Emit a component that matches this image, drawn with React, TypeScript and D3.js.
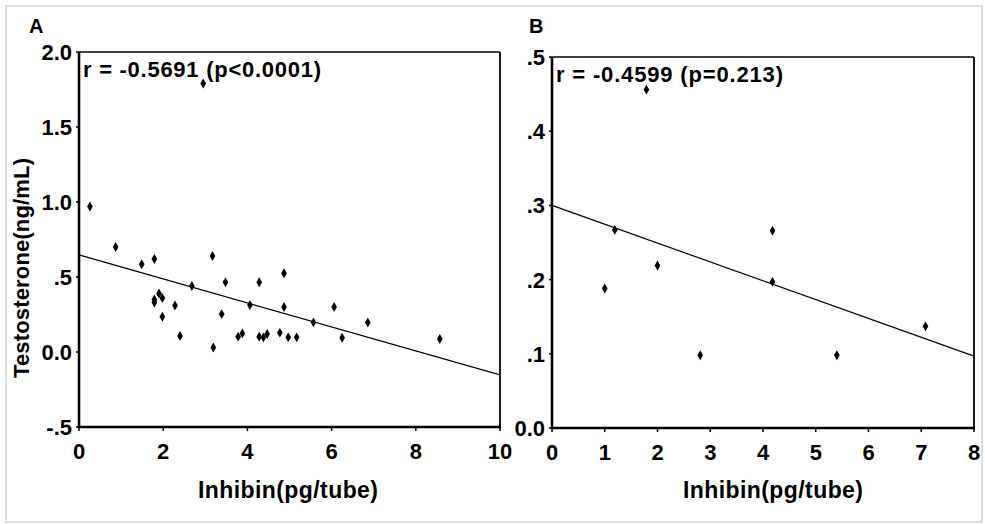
import React from "react";
import * as d3 from "d3";

// Panel A data: Inhibin (pg/tube) vs Testosterone (ng/mL)
const inhibinA = [0.26, 0.87, 1.49, 1.79, 2.95, 3.17, 2.68, 1.90, 1.98, 1.79, 1.79, 2.28, 1.98, 2.40, 3.19,
  3.48, 4.28, 4.87, 4.06, 4.87, 6.06, 3.39, 5.57, 3.78, 3.88, 4.28, 4.38, 4.47, 4.77, 4.97, 5.17, 6.25, 6.86, 8.57];
const testoA = [0.97, 0.70, 0.585, 0.62, 1.79, 0.64, 0.44, 0.39, 0.36, 0.35, 0.33, 0.31, 0.235, 0.107, 0.03,
  0.465, 0.465, 0.525, 0.313, 0.30, 0.30, 0.253, 0.198, 0.102, 0.124, 0.102, 0.098, 0.12, 0.129, 0.098, 0.098, 0.095, 0.196, 0.087];
const fitA = [0.647, -0.08]; // intercept, slope

// Panel B data
const inhibinB = [1.79, 1.19, 4.18, 2.00, 1.00, 4.18, 7.08, 2.81, 5.40];
const testoB = [0.456, 0.267, 0.266, 0.219, 0.188, 0.197, 0.137, 0.098, 0.098];
const fitB = [0.30, -0.0254];

const xTicksA = [0, 2, 4, 6, 8, 10];
const yTicksA = [-0.5, 0, 0.5, 1.0, 1.5, 2.0];
const yLabelsA = ["-.5", "0.0", ".5", "1.0", "1.5", "2.0"];
const xTicksB = [0, 1, 2, 3, 4, 5, 6, 7, 8];
const yTicksB = [0, 0.1, 0.2, 0.3, 0.4, 0.5];
const yLabelsB = ["0.0", ".1", ".2", ".3", ".4", ".5"];

const FONT = "Arimo, 'Liberation Sans', Arial, sans-serif";

type PanelProps = {
  left: number; right: number; top: number; bottom: number;
  xDomain: [number, number]; yDomain: [number, number];
  xs: number[]; ys: number[]; fit: number[];
  xTicks: number[]; yTicks: number[]; yLabels: string[];
  annotation: string; annoWidth: number; letter: string; letterX: number;
  titleX: number; titleWidth: number;
};

function Panel(p: PanelProps) {
  const x = d3.scaleLinear().domain(p.xDomain).range([p.left, p.right]);
  const y = d3.scaleLinear().domain(p.yDomain).range([p.bottom, p.top]);
  const sym = d3.symbol().type(d3.symbolDiamond).size(28)();
  const line = d3.line<number>().x((v) => x(v)).y((v) => y(p.fit[0] + p.fit[1] * v));
  return (
    <g>
      <text x={p.letterX} y={33} fontFamily={FONT} fontWeight="bold" fontSize={20}>{p.letter}</text>
      {/* frame */}
      <line x1={p.left} x2={p.right} y1={p.top} y2={p.top} stroke="#000" strokeWidth={1.3} />
      <line x1={p.right} x2={p.right} y1={p.top} y2={p.bottom} stroke="#000" strokeWidth={1.8} />
      <line x1={p.left} x2={p.left} y1={p.top} y2={p.bottom + 1} stroke="#000" strokeWidth={2.6} />
      <line x1={p.left - 1} x2={p.right + 1} y1={p.bottom} y2={p.bottom} stroke="#000" strokeWidth={2.6} />
      {p.yTicks.map((t, i) => (
        <g key={"y" + i}>
          <line x1={p.left - 3} x2={p.left} y1={y(t)} y2={y(t)} stroke="#000" strokeWidth={1.5} />
          <text x={p.left - 7} y={y(t)} dy="0.36em" textAnchor="end" fontFamily={FONT} fontWeight="bold" fontSize={22}>{p.yLabels[i]}</text>
        </g>
      ))}
      {p.xTicks.map((t, i) => (
        <g key={"x" + i}>
          <line x1={x(t)} x2={x(t)} y1={p.bottom} y2={p.bottom + 4} stroke="#000" strokeWidth={1.5} />
          <text x={x(t)} y={p.bottom + 32} textAnchor="middle" fontFamily={FONT} fontWeight="bold" fontSize={22}>{t}</text>
        </g>
      ))}
      <path d={line(p.xDomain as number[]) || ""} fill="none" stroke="#000" strokeWidth={1.2} />
      {p.xs.map((v, i) => (
        <path key={"p" + i} d={sym || ""} transform={`translate(${x(v)},${y(p.ys[i])})`} fill="#000" />
      ))}
      <text x={p.left + 4} y={p.top + 25} fontFamily={FONT} fontWeight="bold" fontSize={22}
        textLength={p.annoWidth} lengthAdjust="spacing">{p.annotation}</text>
      <text x={p.titleX} y={498} textAnchor="middle" fontFamily={FONT} fontWeight="bold" fontSize={23}
        textLength={p.titleWidth} lengthAdjust="spacing">Inhibin(pg/tube)</text>
    </g>
  );
}

export default function App() {
  return (
    <svg width={985} height={524} style={{ position: "absolute", left: 0, top: 0, background: "#fff" }}>
      <rect x={0} y={0} width={985} height={524} fill="#fff" />
      <rect x={6} y={6} width={976} height={516} fill="none" stroke="#bbb" strokeWidth={1} />
      <Panel left={79} right={500} top={52} bottom={427} xDomain={[0, 10]} yDomain={[-0.5, 2.0]}
        xs={inhibinA} ys={testoA} fit={fitA} xTicks={xTicksA} yTicks={yTicksA} yLabels={yLabelsA}
        annotation="r = -0.5691 (p<0.0001)" annoWidth={238} letter="A" letterX={29} titleX={288} titleWidth={180} />
      <Panel left={552} right={974} top={57} bottom={428} xDomain={[0, 8]} yDomain={[0, 0.5]}
        xs={inhibinB} ys={testoB} fit={fitB} xTicks={xTicksB} yTicks={yTicksB} yLabels={yLabelsB}
        annotation="r = -0.4599 (p=0.213)" annoWidth={227} letter="B" letterX={529} titleX={773} titleWidth={180} />
      <text transform="translate(29,268) rotate(-90)" textAnchor="middle" fontFamily={FONT} fontWeight="bold"
        fontSize={22} textLength={220} lengthAdjust="spacing">Testosterone(ng/mL)</text>
    </svg>
  );
}
